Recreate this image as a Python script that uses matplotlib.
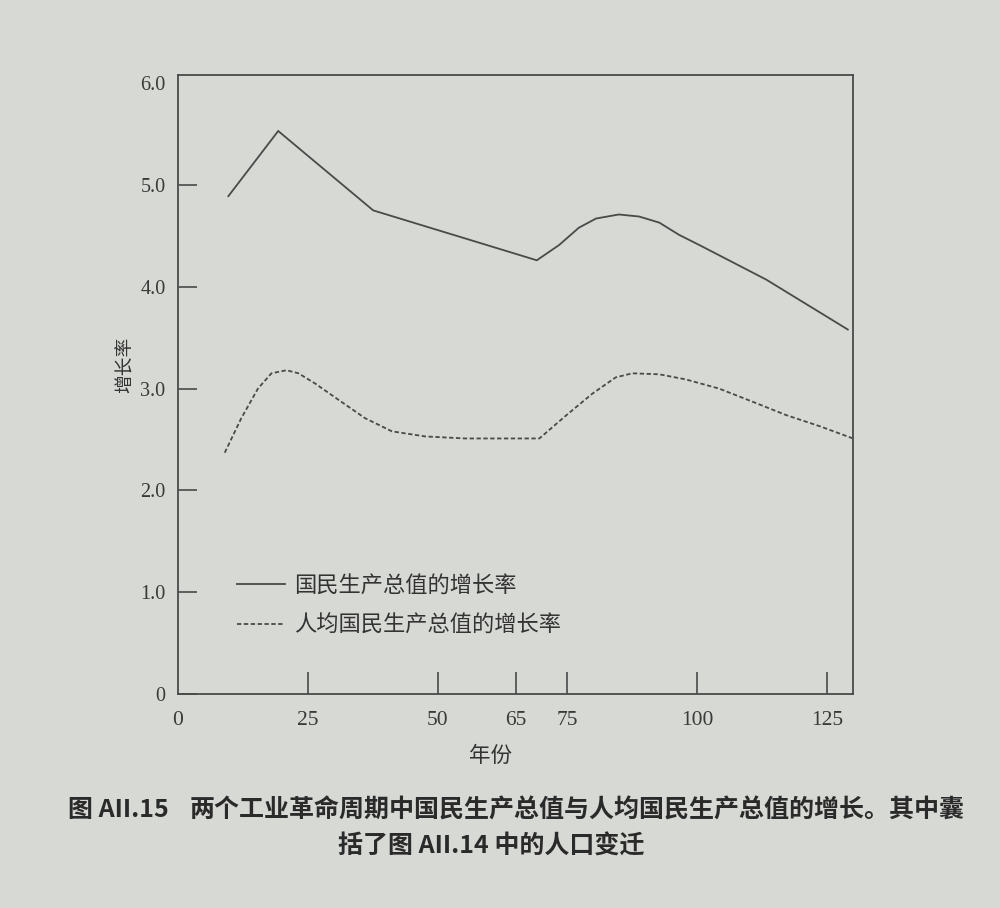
import matplotlib
matplotlib.use("Agg")
import matplotlib.pyplot as plt

# ---- data ----
gnp_years = [9.7, 19.3, 37.6, 69.1, 73.4, 77.2, 80.5, 84.9, 88.8, 92.7, 96.5, 100.4, 113.3, 129.0]
gnp_rate = [4.89, 5.53, 4.75, 4.26, 4.41, 4.58, 4.67, 4.71, 4.69, 4.63, 4.51, 4.41, 4.07, 3.58]

pc_years = [9.0, 12.2, 15.4, 18.0, 20.9, 23.2, 26.4, 30.9, 36.0, 41.2, 47.6, 55.3, 69.6,
            74.6, 79.8, 84.3, 87.5, 92.7, 97.8, 104.2, 110.7, 117.1, 123.6, 130.0]
pc_rate = [2.37, 2.71, 3.00, 3.15, 3.18, 3.15, 3.05, 2.89, 2.71, 2.58, 2.53, 2.51, 2.51,
           2.73, 2.95, 3.11, 3.15, 3.14, 3.09, 3.00, 2.87, 2.74, 2.63, 2.51]

x_ticks = [0, 25, 50, 65, 75, 100, 125]
x_ticklabels = ["0", "25", "50", "65", "75", "100", "125"]
y_ticks = [0, 1, 2, 3, 4, 5, 6]
y_ticklabels = ["0", "1.0", "2.0", "3.0", "4.0", "5.0", "6.0"]

series_labels = ["国民生产总值的增长率", "人均国民生产总值的增长率"]
x_label = "年份"
y_label = "增长率"
caption_tag = "图 AII.15"
caption_line1 = "两个工业革命周期中国民生产总值与人均国民生产总值的增长。其中囊"
caption_line2 = "括了图 AII.14 中的人口变迁"

# ---- style ----
paper = "#d7d9d4"
ink = "#4a4a4a"
cjk = ["Noto Sans CJK SC", "DejaVu Sans"]
serif = ["Liberation Serif", "DejaVu Serif"]

W, H = 1000, 908
fig = plt.figure(figsize=(W / 100, H / 100), dpi=100, facecolor=paper)

left_px, right_px, top_px, bottom_px = 178, 853, 75, 694
ax = fig.add_axes([left_px / W, 1 - bottom_px / H,
                   (right_px - left_px) / W, (bottom_px - top_px) / H])
ax.set_facecolor(paper)

ax.plot(gnp_years, gnp_rate, color=ink, lw=1.3, solid_joinstyle="miter",
        label=series_labels[0])
ax.plot(pc_years, pc_rate, color=ink, lw=1.3, linestyle=(0, (2.4, 1.4)),
        label=series_labels[1])

ax.set_xlim(0, 130)
ax.set_ylim(0, 6.08)

for s in ax.spines.values():
    s.set_color(ink)
    s.set_linewidth(1.3)

ax.set_xticks(x_ticks)
ax.set_xticklabels(x_ticklabels, family=serif, fontsize=15.5, color="#3a3a3a")
ax.set_yticks(y_ticks)
ax.set_yticklabels(y_ticklabels, family=serif, fontsize=14.5, color="#3a3a3a")
ax.tick_params(axis="x", direction="in", length=16, width=1.2, color=ink, pad=12)
ax.tick_params(axis="y", direction="in", length=14, width=1.2, color=ink, pad=9)
ax.yaxis.get_major_ticks()[-1].tick1line.set_visible(False)
ax.xaxis.get_major_ticks()[0].tick1line.set_visible(False)

ax.set_xlabel(x_label, family=cjk, fontsize=15.5, color="#333333")
ax.xaxis.set_label_coords((490 - left_px) / (right_px - left_px),
                          -(745 - bottom_px) / (bottom_px - top_px))
ax.set_ylabel(y_label, family=cjk, fontsize=13.5, color="#333333", va="center")
ax.yaxis.set_label_coords(-(left_px - 125) / (right_px - left_px),
                          (bottom_px - 365) / (bottom_px - top_px))

leg = ax.legend(loc="upper left", bbox_to_anchor=(0.088, 0.195), frameon=False,
                prop={"family": cjk, "size": 16}, handlelength=2.15,
                handletextpad=0.42, labelspacing=0.8, borderpad=0, borderaxespad=0)
for t in leg.get_texts():
    t.set_color("#333333")

fig.text(68 / W, 1 - 810 / H, caption_tag, family=cjk, fontsize=18, weight="bold",
         color="#2a2a2a", va="center", ha="left")
fig.text(190 / W, 1 - 810 / H, caption_line1, family=cjk, fontsize=18, weight="bold",
         color="#2a2a2a", va="center", ha="left")
fig.text(338 / W, 1 - 847 / H, caption_line2, family=cjk, fontsize=18, weight="bold",
         color="#2a2a2a", va="center", ha="left")

fig.savefig("out.png", dpi=100, facecolor=paper)
